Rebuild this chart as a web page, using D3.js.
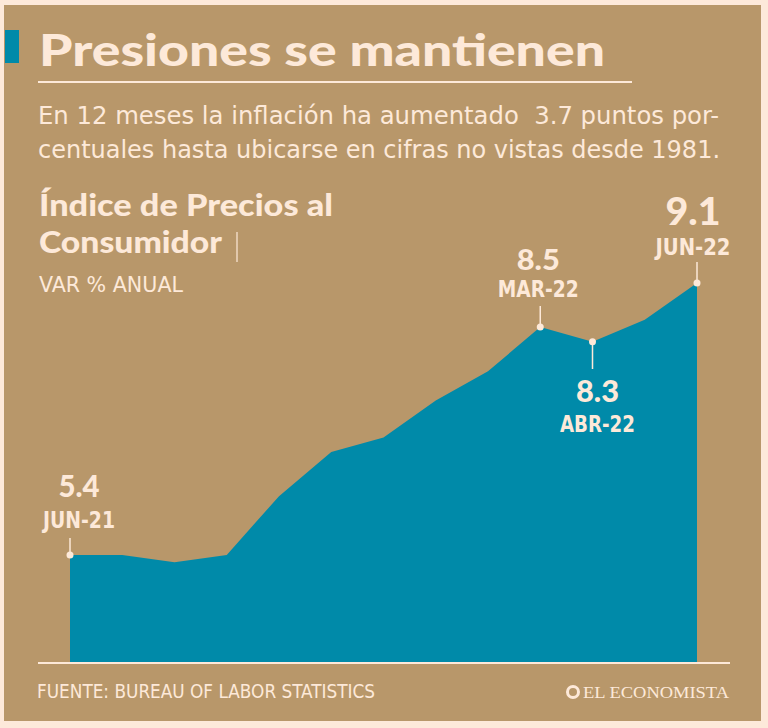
<!DOCTYPE html>
<html><head><meta charset="utf-8">
<script src="https://cdn.jsdelivr.net/npm/d3@7"></script>
<style>html,body{margin:0;padding:0;background:#fde9da;}svg{display:block;}</style>
</head><body>
<script>
const months = ["JUN-21","JUL-21","AGO-21","SEP-21","OCT-21","NOV-21","DIC-21","ENE-22","FEB-22","MAR-22","ABR-22","MAY-22","JUN-22"];
const values = [5.4,5.4,5.3,5.4,6.2,6.8,7.0,7.5,7.9,8.5,8.3,8.6,9.1];
const annotated = ["JUN-21","MAR-22","ABR-22","JUN-22"];

const W=768,H=728;
const cream="#fde9d9", tan="#b8976a", teal="#008aa9";
const svg=d3.select("body").append("svg").attr("width",W).attr("height",H);
svg.append("rect").attr("width",W).attr("height",H).attr("fill","#fde9da");
svg.append("rect").attr("x",4).attr("y",5).attr("width",757).attr("height",716).attr("fill",tan);
svg.append("rect").attr("x",5).attr("y",30).attr("width",14).attr("height",33).attr("fill",teal);

const cond="'DejaVu Sans Condensed','DejaVu Sans',sans-serif";
const geo="Lato,'Open Sans',sans-serif";
svg.append("text").attr("x",39).attr("y",66).text("Presiones se mantienen")
  .attr("font-family",geo).attr("font-weight",900).attr("font-size",43)
  .attr("fill",cream).attr("textLength",566).attr("lengthAdjust","spacingAndGlyphs");
svg.append("line").attr("x1",38).attr("x2",632).attr("y1",82).attr("y2",82).attr("stroke",cream).attr("stroke-width",2);

const sub=["En 12 meses la inflación ha aumentado  3.7 puntos por-","centuales hasta ubicarse en cifras no vistas desde 1981."];
const subLen=[681,682];
sub.forEach((s,i)=>svg.append("text").attr("x",38).attr("y",124+i*34).text(s)
  .attr("font-family",cond).attr("font-size",24).attr("fill",cream)
  .attr("textLength",subLen[i]).attr("lengthAdjust","spacingAndGlyphs").style("white-space","pre"));

svg.append("text").attr("x",39).attr("y",216).text("Índice de Precios al")
  .attr("font-family",geo).attr("font-weight",900).attr("font-size",30).attr("fill",cream)
  .attr("textLength",294).attr("lengthAdjust","spacingAndGlyphs");
svg.append("text").attr("x",39).attr("y",253).text("Consumidor")
  .attr("font-family",geo).attr("font-weight",900).attr("font-size",30).attr("fill",cream)
  .attr("textLength",183).attr("lengthAdjust","spacingAndGlyphs");
svg.append("line").attr("x1",237).attr("x2",237).attr("y1",232).attr("y2",262).attr("stroke",cream).attr("stroke-width",1.2);
svg.append("text").attr("x",39).attr("y",292).text("VAR % ANUAL")
  .attr("font-family",cond).attr("font-size",22).attr("fill",cream)
  .attr("textLength",144).attr("lengthAdjust","spacingAndGlyphs");

const x=d3.scalePoint().domain(months).range([70,697]);
const y=d3.scaleLinear().domain([5.4,9.1]).range([555,283]);
const baseY=663;
const area=d3.area().x((d,i)=>x(months[i])).y0(baseY).y1(d=>y(d));
svg.append("path").datum(values).attr("d",area).attr("fill",teal);
svg.append("line").attr("x1",38).attr("x2",730).attr("y1",baseY).attr("y2",baseY).attr("stroke",cream).attr("stroke-width",2);

// annotations
const ann=[
 {m:"JUN-21",dir:-1,dx:9,vs:30,vw:41,lw:72,valY:497,labY:528,t1:538},
 {m:"MAR-22",dir:-1,dx:-2,vs:28,vw:43,lw:81,valY:270,labY:297,t1:306},
 {m:"JUN-22",dir:-1,dx:-4,vs:37,vw:55,lw:75,valY:225,labY:255,t1:262},
 {m:"ABR-22",dir:1,dx:5,vs:30,vw:43,lw:75,valY:402,labY:432,t1:369}
];
ann.forEach(a=>{
  const i=months.indexOf(a.m); const cx=x(a.m), cy=y(values[i]);
  svg.append("line").attr("x1",cx).attr("x2",cx).attr("y1",a.t1).attr("y2",cy)
    .attr("stroke",cream).attr("stroke-width",1.5);
  svg.append("circle").attr("cx",cx).attr("cy",cy).attr("r",3.5).attr("fill",cream);
  svg.append("text").attr("x",cx+a.dx).attr("y",a.valY).attr("text-anchor","middle").text(d3.format(".1f")(values[i]))
    .attr("font-family",geo).attr("font-weight",900).attr("font-size",a.vs).attr("fill",cream)
    .attr("textLength",a.vw).attr("lengthAdjust","spacingAndGlyphs");
  svg.append("text").attr("x",cx+a.dx).attr("y",a.labY).attr("text-anchor","middle").text(a.m)
    .attr("font-family",cond).attr("font-weight",700).attr("font-size",23).attr("fill",cream)
    .attr("textLength",a.lw).attr("lengthAdjust","spacingAndGlyphs");
});

svg.append("text").attr("x",37).attr("y",698).text("FUENTE: BUREAU OF LABOR STATISTICS")
  .attr("font-family",cond).attr("font-size",19).attr("fill",cream)
  .attr("textLength",338).attr("lengthAdjust","spacingAndGlyphs");
svg.append("circle").attr("cx",573).attr("cy",692).attr("r",5.5).attr("fill","none").attr("stroke",cream).attr("stroke-width",3);
svg.append("text").attr("x",729).attr("y",698).attr("text-anchor","end").text("EL ECONOMISTA")
  .attr("font-family","'Liberation Serif',serif").attr("font-size",17).attr("fill",cream)
  .attr("textLength",146).attr("lengthAdjust","spacingAndGlyphs");
</script>
</body></html>
